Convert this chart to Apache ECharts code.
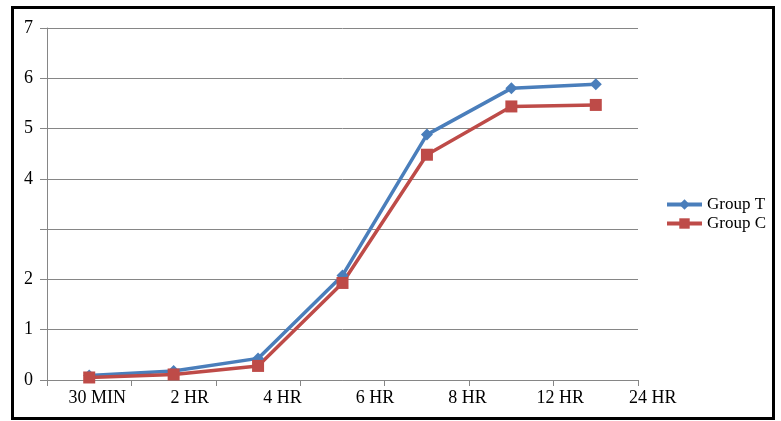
<!DOCTYPE html>
<html>
<head>
<meta charset="utf-8">
<script src="https://cdn.jsdelivr.net/npm/echarts@6/dist/echarts.min.js"></script>
<style>html,body{margin:0;padding:0;background:#fff}#c{width:781px;height:421px}</style>
</head>
<body>
<div id="c"></div>
<script>
const categories = ['30 MIN', '2 HR', '4 HR', '6 HR', '8 HR', '12 HR', '24 HR'];
const groupT = [0.09, 0.18, 0.43, 2.08, 4.88, 5.80, 5.88];
const groupC = [0.05, 0.11, 0.28, 1.93, 4.48, 5.44, 5.47];
const yTicks = [0, 1, 2, 4, 5, 6, 7];

const font = 'Liberation Serif, Times New Roman, serif';
const gray = '#868686';
const chart = echarts.init(document.getElementById('c'), null, {renderer: 'canvas'});
chart.setOption({
  animation: false,
  backgroundColor: '#fff',
  graphic: [{
    type: 'rect', left: 10, top: 5, z: 100,
    shape: {width: 761, height: 411},
    style: {fill: 'none', stroke: '#000', lineWidth: 3}
  }],
  grid: [
    {left: 47, right: 143, top: 28, bottom: 41},
    {left: 51, width: 648, top: 380, height: 1}
  ],
  legend: {
    orient: 'vertical', left: 665, top: 196, itemWidth: 35, itemHeight: 13, itemGap: 2,
    padding: 0,
    textStyle: {fontFamily: font, fontSize: 17, color: '#000'},
    lineStyle: {width: 4},
    data: ['Group T', 'Group C']
  },
  xAxis: [{
    type: 'category', gridIndex: 0, data: categories, boundaryGap: true,
    axisLine: {lineStyle: {color: gray, width: 1}},
    axisTick: {show: true, interval: 0, length: 6, lineStyle: {color: gray}},
    axisLabel: {show: false}
  }, {
    type: 'category', gridIndex: 1, data: categories, boundaryGap: true,
    axisLine: {show: false}, axisTick: {show: false},
    axisLabel: {interval: 0, margin: 8, fontFamily: font, fontSize: 18, color: '#000'}
  }],
  yAxis: [{
    type: 'value', gridIndex: 0, min: 0, max: 7, interval: 1,
    axisLine: {show: true, lineStyle: {color: gray, width: 1}},
    axisTick: {show: true, length: 7, lineStyle: {color: gray}},
    splitLine: {lineStyle: {color: gray, width: 1}},
    axisLabel: {
      margin: 14, fontFamily: font, fontSize: 18, color: '#000',
      formatter: v => yTicks.includes(v) ? String(v) : ''
    }
  }, {
    type: 'value', gridIndex: 1, show: false
  }],
  series: [{
    name: 'Group T', type: 'line', xAxisIndex: 0, yAxisIndex: 0, data: groupT,
    symbol: 'diamond', symbolSize: 12, color: '#4A7EBB',
    lineStyle: {width: 3.5, color: '#4A7EBB'}, itemStyle: {color: '#4A7EBB'}
  }, {
    name: 'Group C', type: 'line', xAxisIndex: 0, yAxisIndex: 0, data: groupC,
    symbol: 'rect', symbolSize: 12, color: '#BE4B48',
    lineStyle: {width: 3.5, color: '#BE4B48'}, itemStyle: {color: '#BE4B48'}
  }]
});
</script>
</body>
</html>
